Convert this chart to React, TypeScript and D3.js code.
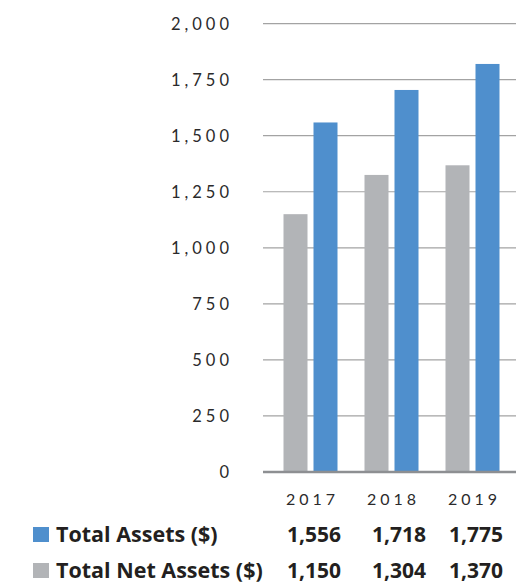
import React from "react";
import * as d3 from "d3";

const years = ["2017", "2018", "2019"];
const seriesKeys = ["net", "total"];
const totalAssetsBars = [1559, 1704, 1820];
const netAssetsBars = [1150, 1325, 1368];
const yTicks = [0, 250, 500, 750, 1000, 1250, 1500, 1750, 2000];
const tableRows = [
  { key: "total", label: "Total Assets ($)", values: ["1,556", "1,718", "1,775"] },
  { key: "net", label: "Total Net Assets ($)", values: ["1,150", "1,304", "1,370"] },
];

const COLORS: Record<string, string> = { total: "#4f8fcd", net: "#b2b4b7" };
const W = 526, H = 583;

export default function App() {
  const y = d3.scaleLinear().domain([0, 2000]).range([472, 23.6]);
  const x0 = d3.scaleBand().domain(years).range([270, 513]);
  const x1 = d3.scaleBand().domain(seriesKeys).range([-27, 27]).paddingInner(0.2);
  const fmt = d3.format(",");
  const valuesByKey: Record<string, number[]> = { total: totalAssetsBars, net: netAssetsBars };
  const colX = [287, 372, 503];
  const colAnchor = ["start", "start", "end"];
  const rowY = [542, 578];
  const tickFont = "Lato, 'Open Sans', sans-serif";
  const boldFont = "'Open Sans', sans-serif";

  return (
    <svg width={W} height={H} style={{ position: "absolute", left: 0, top: 0 }}>
      {yTicks.map((t) => (
        <g key={t}>
          {t !== 0 && (
            <line x1={263} x2={516} y1={y(t)} y2={y(t)} stroke="#a3a3a3" strokeWidth={1.2} />
          )}
          <text
            x={233}
            y={y(t)}
            dy="0.36em"
            textAnchor="end"
            fontFamily={tickFont}
            fontSize={16.5}
            letterSpacing={4}
            fill="#2b2a2b"
          >
            {fmt(t)}
          </text>
        </g>
      ))}
      {years.map((yr, i) => (
        <g key={yr}>
          {seriesKeys.map((k) => {
            const v = valuesByKey[k][i];
            const cx = (x0(yr) as number) + x0.bandwidth() / 2;
            return (
              <rect
                key={k}
                x={cx + (x1(k) as number)}
                width={x1.bandwidth()}
                y={y(v)}
                height={y(0) - y(v)}
                fill={COLORS[k]}
              />
            );
          })}
          <text
            x={(x0(yr) as number) + x0.bandwidth() / 2 + 2}
            y={505}
            textAnchor="middle"
            fontFamily={tickFont}
            fontSize={16}
            letterSpacing={4}
            fill="#2b2a2b"
          >
            {yr}
          </text>
        </g>
      ))}
      <line x1={263} x2={516} y1={y(0)} y2={y(0)} stroke="#8d8f92" strokeWidth={2.5} />
      {tableRows.map((r, ri) => (
        <g key={r.key}>
          <rect x={33} y={rowY[ri] - 15} width={16} height={15} fill={COLORS[r.key]} />
          <text
            x={56}
            y={rowY[ri]}
            fontFamily={boldFont}
            fontWeight={700}
            fontSize={21.5}
            fill="#231f20"
          >
            {r.label}
          </text>
          {r.values.map((v, ci) => (
            <text
              key={ci}
              x={colX[ci]}
              y={rowY[ri]}
              textAnchor={colAnchor[ci] as any}
              fontFamily={boldFont}
              fontWeight={700}
              fontSize={21}
              fill="#231f20"
            >
              {v}
            </text>
          ))}
        </g>
      ))}
    </svg>
  );
}
